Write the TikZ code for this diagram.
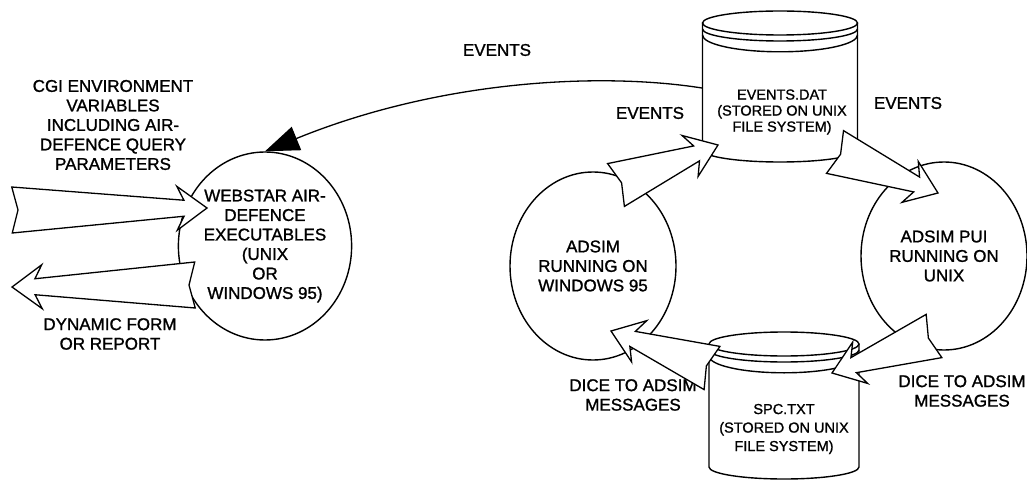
\documentclass[tikz,border=0pt]{standalone}
\usepackage{fontspec}
\setmainfont{Liberation Sans}[BoldFont = {Liberation Sans}, BoldFeatures = {FakeBold = 1.2}]
\usetikzlibrary{arrows.meta,shapes.geometric,calc}

% hollow tapered block arrow from tail #1 to tip #2
\newcommand{\fatarrow}[2]{%
  \draw[fat] let \p1 = ($(#2)-(#1)$), \n1 = {atan2(\y1,\x1)}, \n2 = {veclen(\x1,\y1)} in
    ($(#1)+(\n1+90:23pt)$) -- ($(#1)+(\n1:6pt)$) -- ($(#1)+(\n1-90:23pt)$)
    -- ($(#1)+(\n1:\n2-23pt)+(\n1-90:8pt)$) -- ($(#1)+(\n1:\n2-30pt)+(\n1-90:22pt)$)
    -- (#2)
    -- ($(#1)+(\n1:\n2-30pt)+(\n1+90:22pt)$) -- ($(#1)+(\n1:\n2-23pt)+(\n1+90:8pt)$)
    -- cycle;}

% drum: centre x, x radius, top y, bottom y, y radius
\newcommand{\drum}[5]{%
  \draw[outline] (#1,#3) ellipse [x radius=#2pt, y radius=#5pt];
  \draw[outline] (#1-#2,#3) -- (#1-#2,#4) arc [start angle=180, end angle=360, x radius=#2pt, y radius=#5pt] -- (#1+#2,#3);
  \draw[outline] (#1-#2,#3-6) arc [start angle=180, end angle=360, x radius=#2pt, y radius=#5pt];
  \draw[outline] (#1-#2,#3-12) arc [start angle=180, end angle=360, x radius=#2pt, y radius=1.4*#5pt];}

\begin{document}
\begin{tikzpicture}[x = 1pt, y = 1pt,
        outline/.style = {line width = 1.4pt},
        blob/.style = {ellipse, draw, line width = 1.4pt, minimum width = 166pt, minimum height = 188pt,
                       inner sep = 0pt, align = center, font = \fontsize{17}{19.5}\selectfont\bfseries},
        plain_label/.style = {align = center, font = \fontsize{17}{19.5}\selectfont\bfseries},
        drum_text/.style = {align = center, font = \fontsize{14.5}{16}\selectfont\bfseries},
        fat/.style = {draw, fill = white, line width = 1.3pt, line join = miter}]
    \useasboundingbox (0,0) rectangle (1027,-481);
    %processes
    \node[blob] (web) at (265,-246) {WEBSTAR AIR-\\DEFENCE\\EXECUTABLES\\(UNIX\\OR\\WINDOWS 95)};
    \node[blob] (win) at (593,-266) {ADSIM\\RUNNING ON\\WINDOWS 95};
    \node[blob] (pui) at (944,-256) {ADSIM PUI\\RUNNING ON\\UNIX};
    %files
    \drum{780}{77.5}{-23}{-150}{12}
    \node[drum_text] (evdat) at (782,-112) {EVENTS.DAT\\(STORED ON UNIX\\FILE SYSTEM)};
    \drum{784}{75}{-344}{-467}{12}
    \node[drum_text, font = \fontsize{14.5}{18.5}\selectfont\bfseries] (spc) at (784,-429) {SPC.TXT\\(STORED ON UNIX\\FILE SYSTEM)};
    %labels
    \node[plain_label] (cgi) at (113,-125) {CGI ENVIRONMENT\\VARIABLES\\INCLUDING AIR-\\DEFENCE QUERY\\PARAMETERS};
    \node[plain_label] (dyn) at (110,-334) {DYNAMIC FORM\\OR REPORT};
    \node[plain_label] (evtop) at (497,-50) {EVENTS};
    \node[plain_label] (evleft) at (650,-113) {EVENTS};
    \node[plain_label] (evright) at (908,-103) {EVENTS};
    \node[plain_label] (diceleft) at (633,-395) {DICE TO ADSIM\\MESSAGES};
    \node[plain_label] (diceright) at (962,-391) {DICE TO ADSIM\\MESSAGES};
    %arrow ends
    \coordinate (evside) at (702,-88);
    \coordinate (inTail) at (12,-210);
    \coordinate (inTip) at (207,-208);
    \coordinate (outTail) at (195,-285);
    \coordinate (outTip) at (12,-287);
    \coordinate (winTail) at (616,-185);
    \coordinate (evdatTip) at (718,-145);
    \coordinate (evdatTail) at (835,-152);
    \coordinate (puiTip) at (938,-193);
    \coordinate (puiTail) at (934,-336);
    \coordinate (spcTip) at (832,-373);
    \coordinate (spcTail) at (712,-368);
    \coordinate (winTip) at (611,-331);
    %events back to webstar
    \draw[line width = 1.3pt, -{Triangle[length=34pt, width=25pt]}] (evside) .. controls (600,-72) and (440,-80) .. (web.north);
    %block arrows
    \fatarrow{inTail}{inTip}
    \fatarrow{outTail}{outTip}
    \fatarrow{winTail}{evdatTip}
    \fatarrow{evdatTail}{puiTip}
    \fatarrow{puiTail}{spcTip}
    \fatarrow{spcTail}{winTip}
\end{tikzpicture}
\end{document}
